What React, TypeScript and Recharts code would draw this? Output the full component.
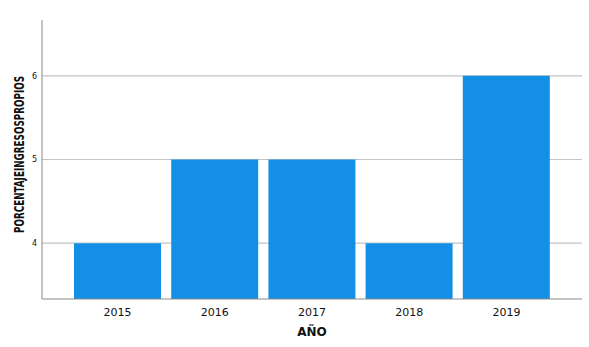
import { BarChart, Bar, XAxis, YAxis, CartesianGrid, Label } from "recharts";

const years = ["2015", "2016", "2017", "2018", "2019"];
const values = [4, 5, 5, 4, 6];
const yTicks = [4, 5, 6];

const data = years.map((y, i) => ({ anio: y, valor: values[i] }));

const font = "'DejaVu Sans', sans-serif";

// titulo del eje Y, comprimido como en el original
function YTitle(props: any) {
  const vb = props.viewBox || {};
  const cy = vb.y + vb.height / 2 - 5;
  return (
    <text
      x={19}
      y={cy}
      transform={`rotate(-90, 19, ${cy})`}
      textAnchor="middle"
      dominantBaseline="central"
      fontFamily="'DejaVu Sans Condensed', 'DejaVu Sans', sans-serif"
      fontWeight="bold"
      fontSize={14}
      textLength={157}
      lengthAdjust="spacingAndGlyphs"
      fill="#111"
    >
      PORCENTAJEINGRESOSPROPIOS
    </text>
  );
}

export default function App() {
  return (
    <div style={{ position: "absolute", left: 0, top: 0, background: "#fff" }}>
      <BarChart
        width={589}
        height={347}
        data={data}
        margin={{ top: 20, right: 7, bottom: 0, left: 0 }}
        barSize={87}
      >
        {/* solo lineas horizontales en los ticks */}
        <CartesianGrid vertical={false} stroke="#c4c4c4" strokeWidth={1.2} syncWithTicks />

        <XAxis
          dataKey="anio"
          height={48}
          padding={{ left: 27, right: 27 }}
          tickLine={false}
          tickSize={0}
          tickMargin={9}
          stroke="#8a8a8a"
          tick={{ fill: "#111", fontSize: 11, fontFamily: font }}
        >
          <Label
            value="AÑO"
            position="insideBottom"
            offset={11}
            fill="#111"
            fontSize={12}
            fontWeight="bold"
            fontFamily={font}
          />
        </XAxis>

        <YAxis
          width={42}
          domain={[3.333, 6.667]}
          ticks={yTicks}
          allowDataOverflow
          tickLine={false}
          tickSize={0}
          tickMargin={5}
          stroke="#8a8a8a"
          tick={{ fill: "#111", fontSize: 8, fontFamily: font }}
          label={<YTitle />}
        />

        <Bar dataKey="valor" fill="#1390e6" isAnimationActive={false} />
      </BarChart>
    </div>
  );
}
